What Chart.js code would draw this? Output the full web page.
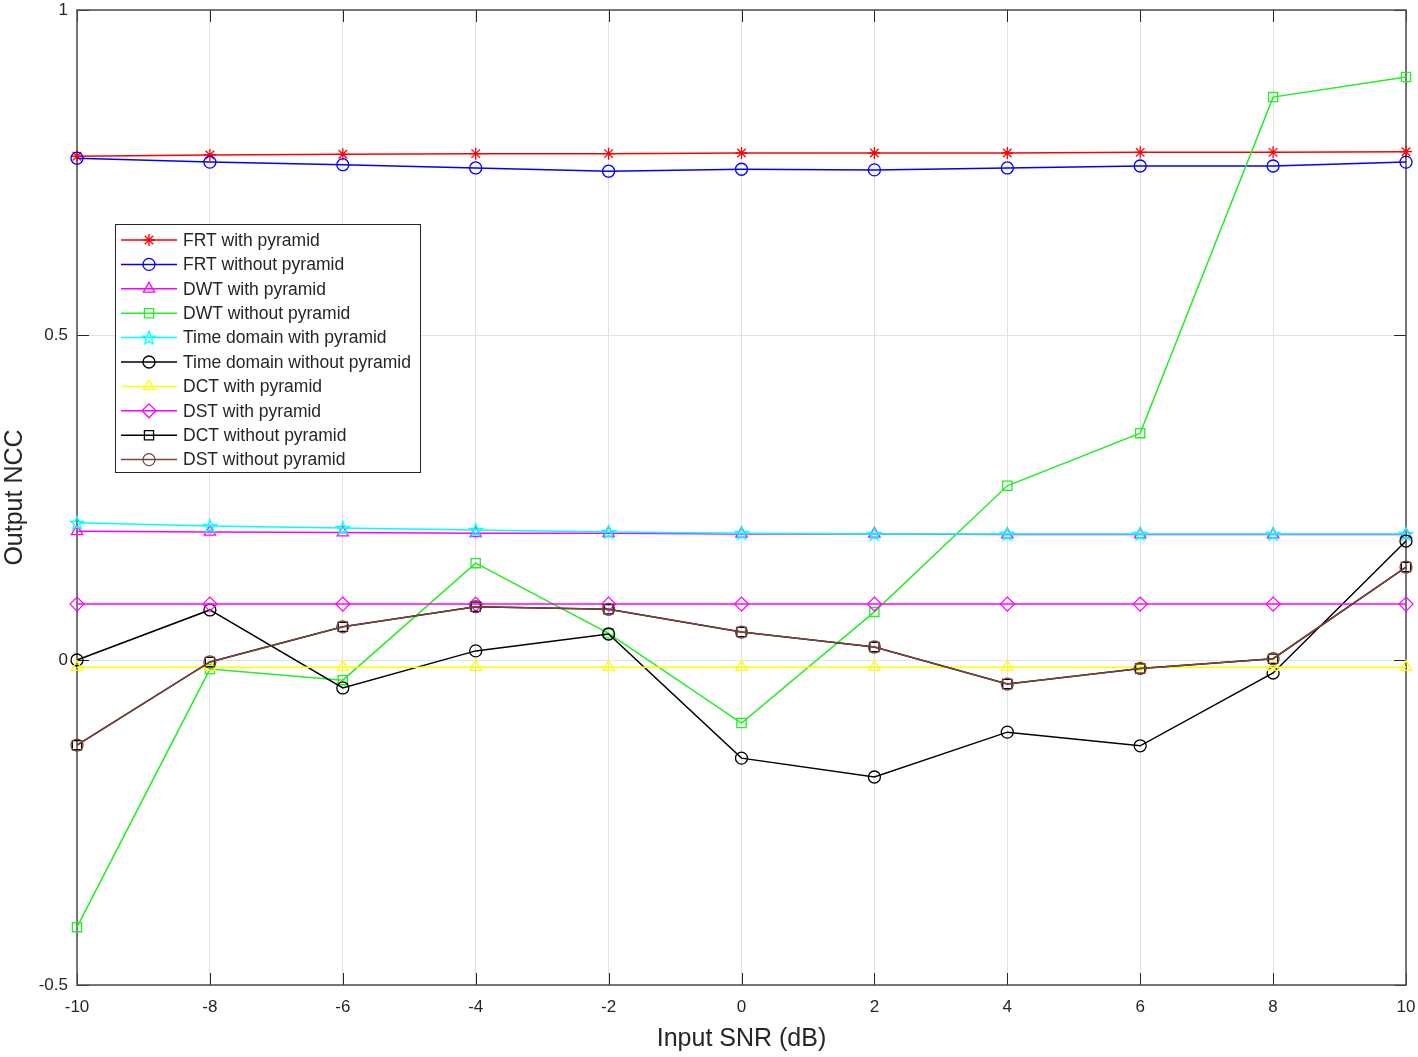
<!DOCTYPE html>
<html>
<head>
<meta charset="utf-8">
<script src="https://cdn.jsdelivr.net/npm/chart.js@4.4.1/dist/chart.umd.min.js"></script>
<style>
    html, body { margin: 0; padding: 0; background: #fff; }
    #wrap { width: 1418px; height: 1057px; }
</style>
</head>
<body>
<div id="wrap"><canvas id="grafico"></canvas></div>
<script>
// SNR values (x axis)
const snr = [-10, -8, -6, -4, -2, 0, 2, 4, 6, 8, 10];
const yTicks = [-0.5, 0, 0.5, 1];

// Output NCC per method
const frtWith = [0.775, 0.777, 0.778, 0.779, 0.779, 0.780, 0.780, 0.780, 0.781, 0.781, 0.782];
const frtWithout = [0.772, 0.766, 0.762, 0.757, 0.752, 0.755, 0.754, 0.757, 0.760, 0.760, 0.766];
const dwtWith = [0.198, 0.197, 0.196, 0.195, 0.195, 0.194, 0.194, 0.193, 0.193, 0.193, 0.193];
const dwtWithout = [-0.411, -0.014, -0.031, 0.149, 0.041, -0.097, 0.074, 0.268, 0.349, 0.866, 0.897];
const timeWith = [0.211, 0.206, 0.203, 0.200, 0.197, 0.195, 0.194, 0.194, 0.194, 0.194, 0.194];
const timeWithout = [0.000, 0.077, -0.043, 0.014, 0.040, -0.151, -0.180, -0.111, -0.132, -0.020, 0.183];
const dctWith = [-0.011, -0.011, -0.011, -0.011, -0.011, -0.011, -0.011, -0.011, -0.011, -0.011, -0.011];
const dstWith = [0.086, 0.086, 0.086, 0.086, 0.086, 0.086, 0.086, 0.086, 0.086, 0.086, 0.086];
const dctWithout = [-0.131, -0.003, 0.051, 0.082, 0.078, 0.043, 0.020, -0.037, -0.013, 0.002, 0.143];
const dstWithout = [-0.131, -0.003, 0.051, 0.082, 0.078, 0.043, 0.020, -0.037, -0.013, 0.002, 0.143];

const textColor = '#262626';
const fontFamily = '"Liberation Sans", Arial, sans-serif';

// MATLAB style pentagram marker
function criarPentagrama(cor) {
    const c = document.createElement('canvas');
    c.width = 16; c.height = 16;
    const g = c.getContext('2d');
    g.strokeStyle = cor;
    g.lineWidth = 1.3;
    g.beginPath();
    for (let i = 0; i < 10; i++) {
        const r = i % 2 === 0 ? 7 : 2.8;
        const a = -Math.PI / 2 + i * Math.PI / 5;
        const px = 8 + r * Math.cos(a);
        const py = 8.5 + r * Math.sin(a);
        if (i === 0) g.moveTo(px, py); else g.lineTo(px, py);
    }
    g.closePath();
    g.stroke();
    return c;
}
const pentagrama = criarPentagrama('#00ffff');

function serie(label, valores, cor, estilo, raio) {
    return {
        label: label,
        data: snr.map((x, i) => ({ x: x, y: valores[i] })),
        borderColor: cor,
        backgroundColor: 'rgba(0,0,0,0)',
        pointBorderColor: cor,
        pointBackgroundColor: 'rgba(0,0,0,0)',
        pointStyle: estilo,
        pointRadius: raio,
        pointBorderWidth: 1.3,
        borderWidth: 1.5,
        tension: 0,
        clip: false
    };
}

const datasets = [
    serie('FRT with pyramid', frtWith, '#ff0000', 'star', 6),
    serie('FRT without pyramid', frtWithout, '#0000ff', 'circle', 6),
    serie('DWT with pyramid', dwtWith, '#ff00ff', 'triangle', 6.5),
    serie('DWT without pyramid', dwtWithout, '#22ee22', 'rect', 6.5),
    serie('Time domain with pyramid', timeWith, '#00ffff', pentagrama, 7),
    serie('Time domain without pyramid', timeWithout, '#000000', 'circle', 6),
    serie('DCT with pyramid', dctWith, '#ffff00', 'triangle', 6.5),
    serie('DST with pyramid', dstWith, '#ff00ff', 'rectRot', 7),
    serie('DCT without pyramid', dctWithout, '#000000', 'rect', 6.5),
    serie('DST without pyramid', dstWithout, '#7a4438', 'circle', 6)
];
// later series on top, like MATLAB
datasets.forEach((d, i) => { d.order = datasets.length - i; });

// box, inward ticks and legend drawn on the canvas
const molduraPlugin = {
    id: 'moldura',
    beforeDatasetsDraw(chart) {
        const { ctx, chartArea: a, scales } = chart;
        ctx.save();
        ctx.strokeStyle = '#262626';
        ctx.lineWidth = 1;
        ctx.beginPath();
        snr.forEach(v => {
            const x = Math.round(scales.x.getPixelForValue(v)) + 0.5;
            ctx.moveTo(x, a.bottom); ctx.lineTo(x, a.bottom - 12);
            ctx.moveTo(x, a.top); ctx.lineTo(x, a.top + 12);
        });
        yTicks.forEach(v => {
            const y = Math.round(scales.y.getPixelForValue(v)) + 0.5;
            ctx.moveTo(a.left, y); ctx.lineTo(a.left + 12, y);
            ctx.moveTo(a.right, y); ctx.lineTo(a.right - 12, y);
        });
        ctx.stroke();
        ctx.strokeStyle = '#4d4d4d';
        ctx.lineWidth = 1.5;
        ctx.strokeRect(a.left, a.top, a.right - a.left, a.bottom - a.top);
        ctx.restore();
    },
    afterDraw(chart) {
        const { ctx } = chart;
        const bx = 115, by = 224, bw = 305, bh = 248;
        ctx.save();
        ctx.fillStyle = '#ffffff';
        ctx.fillRect(bx, by, bw, bh);
        ctx.strokeStyle = '#262626';
        ctx.lineWidth = 1;
        ctx.strokeRect(bx + 0.5, by + 0.5, bw, bh);
        ctx.font = '17.5px ' + fontFamily;
        ctx.textBaseline = 'middle';
        chart.data.datasets.forEach((d, i) => {
            const y = 240 + i * 24.4;
            ctx.strokeStyle = d.borderColor;
            ctx.lineWidth = 1.5;
            ctx.beginPath();
            ctx.moveTo(121, y); ctx.lineTo(177, y);
            ctx.stroke();
            ctx.fillStyle = 'rgba(0,0,0,0)';
            ctx.lineWidth = 1.3;
            Chart.helpers.drawPoint(ctx, { pointStyle: d.pointStyle, radius: d.pointRadius, rotation: 0, borderWidth: 1.3 }, 149, y);
            ctx.fillStyle = textColor;
            ctx.fillText(d.label, 183, y + 1);
        });
        ctx.restore();
    }
};

const ctx = document.getElementById('grafico').getContext('2d');
new Chart(ctx, {
    type: 'line',
    data: { datasets: datasets },
    plugins: [molduraPlugin],
    options: {
        responsive: true,
        maintainAspectRatio: false,
        animation: false,
        layout: { padding: { left: 0, top: 10, right: 12, bottom: 0 } },
        plugins: { legend: { display: false }, tooltip: { enabled: false } },
        scales: {
            x: {
                type: 'linear',
                min: -10,
                max: 10,
                ticks: { stepSize: 2, color: textColor, font: { size: 17, family: fontFamily }, padding: 12, maxRotation: 0 },
                grid: { color: '#e1e1ea', drawTicks: false },
                border: { display: false },
                title: { display: true, text: 'Input SNR (dB)', color: textColor, font: { size: 25, family: fontFamily }, padding: { top: 0, bottom: 3 } },
                afterFit(scale) {
                    scale.height = 72;
                    scale.paddingLeft = 0;
                    scale.paddingRight = 0;
                }
            },
            y: {
                min: -0.5,
                max: 1,
                ticks: {
                    stepSize: 0.5,
                    color: textColor,
                    font: { size: 17, family: fontFamily },
                    padding: 9,
                    callback: v => String(Number(v.toFixed(1)))
                },
                grid: { color: '#e1e1ea', drawTicks: false },
                border: { display: false },
                title: { display: true, text: 'Output NCC', color: textColor, font: { size: 25, family: fontFamily }, padding: { top: 0, bottom: 0 } },
                afterFit(scale) {
                    scale.width = 77;
                    scale.paddingTop = 0;
                    scale.paddingBottom = 0;
                }
            }
        }
    }
});
</script>
</body>
</html>
